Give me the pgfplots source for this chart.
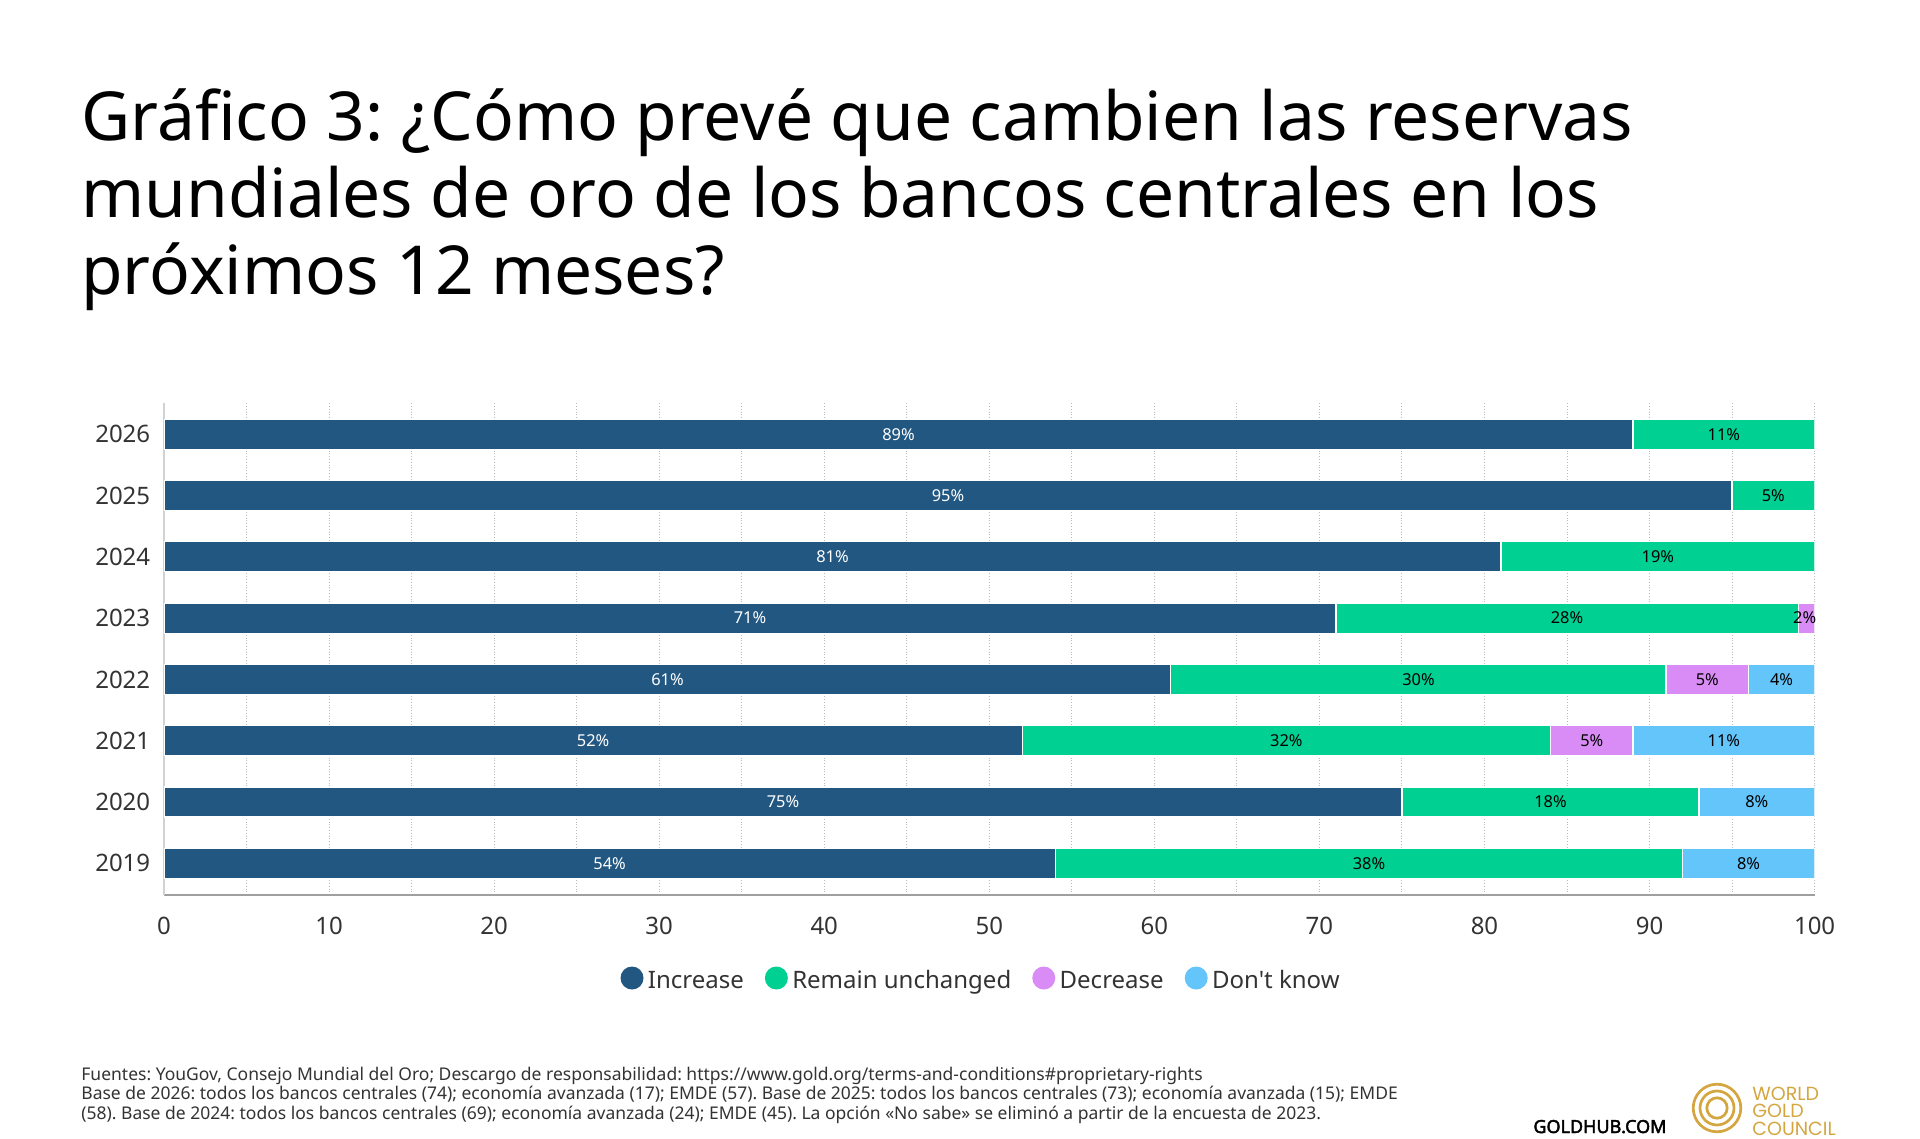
\documentclass[border=0pt]{standalone}
\usepackage{fontspec}
\setmainfont{Noto Sans}[Ligatures=TeXOff]
\newfontfamily\logofont{Poppins}
\newfontfamily\ghfont{Noto Sans}[FakeBold=2.5]
\usepackage{pgfplots}
\pgfplotsset{compat=1.18}
\definecolor{cInc}{HTML}{225782}
\definecolor{cRem}{HTML}{00D092}
\definecolor{cDec}{HTML}{D98CF5}
\definecolor{cDK}{HTML}{64C5FB}
\definecolor{cGold}{HTML}{D4A640}
\definecolor{cTxt}{HTML}{333333}
\frenchspacing
\begin{document}
\begin{tikzpicture}
\path[use as bounding box] (0bp,0bp) rectangle (960bp,569.5bp);
% title
\begin{scope}[every node/.style={anchor=base west, inner sep=0pt, font=\fontsize{33.8bp}{37bp}\selectfont}]
\node at (40.5bp,499bp) {Gráfico 3: ¿Cómo prevé que cambien las reservas};
\node at (40.5bp,460.5bp) {mundiales de oro de los bancos centrales en los};
\node at (40.5bp,422bp) {próximos 12 meses?};
\end{scope}
% footer
\begin{scope}[every node/.style={anchor=base west, inner sep=0pt, text=cTxt, font=\fontsize{8.75bp}{9.8bp}\selectfont}]
\node at (40.5bp,29.5bp) {Fuentes: YouGov, Consejo Mundial del Oro; Descargo de responsabilidad: https://www.gold.org/terms-and-conditions\#proprietary-rights};
\node at (40.5bp,19.7bp) {Base de 2026: todos los bancos centrales (74); economía avanzada (17); EMDE (57). Base de 2025: todos los bancos centrales (73); economía avanzada (15); EMDE};
\node at (40.5bp,9.9bp) {(58). Base de 2024: todos los bancos centrales (69); economía avanzada (24); EMDE (45). La opción «No sabe» se eliminó a partir de la encuesta de 2023.};
\end{scope}
\node[anchor=base west, inner sep=0pt, font=\ghfont\fontsize{9bp}{10bp}\selectfont] at (766.5bp,3bp) {GOLDHUB.COM};
% logo
\begin{scope}[draw=cGold, line width=1.35bp]
\draw (858.5bp,15.5bp) circle (11.9bp);
\draw (858.5bp,15.5bp) circle (8.5bp);
\draw (858.5bp,15.5bp) circle (5.1bp);
\end{scope}
\begin{scope}[every node/.style={anchor=base west, inner sep=0pt, text=cGold, font=\logofont\fontsize{9.5bp}{10bp}\selectfont}]
\node at (876bp,19.5bp) {WORLD};
\node at (876bp,10.7bp) {GOLD};
\node at (876bp,2bp) {COUNCIL};
\end{scope}
% main chart
\begin{axis}[
  at={(82bp,122bp)}, anchor=south west,
  scale only axis, width=825.3bp, height=246.2bp,
  xbar stacked, bar width=15bp,
  xmin=0, xmax=100, ymin=-0.515, ymax=7.515,
  ytick={0,1,2,3,4,5,6,7},
  yticklabels={2019,2020,2021,2022,2023,2024,2025,2026},
  xtick={0,10,...,100},
  minor xtick={5,15,...,95},
  xmajorgrids, xminorgrids,
  major grid style={densely dotted, draw=gray!55, line width=0.5bp},
  minor grid style={densely dotted, draw=gray!55, line width=0.5bp},
  major tick length=0pt, minor tick length=0pt,
  tick style={draw=none},
  axis x line*=bottom, axis y line*=left,
  x axis line style={draw=gray!75, line width=0.8bp},
  y axis line style={draw=gray!35, line width=0.6bp},
  /pgf/number format/assume math mode=true,
  ticklabel style={font=\fontsize{12bp}{14bp}\selectfont, text=cTxt},
  xticklabel style={inner sep=0pt, anchor=north, yshift=-11bp},
  yticklabel style={inner sep=0pt, anchor=east, xshift=-6.7bp},
  legend columns=4,
  legend style={at={(0.4944,-0.1686)}, anchor=center, draw=none, fill=none,
    font=\fontsize{12bp}{14bp}\selectfont, text=cTxt, inner sep=0pt,
    nodes={inner sep=0pt, text depth=0pt},
    /tikz/every odd column/.append style={column sep=2.2bp},
    /tikz/every even column/.append style={column sep=10.5bp}},
]
\addplot[fill=cInc, draw=white, line width=0.6bp,
  legend image code/.code={\node[circle, fill=cInc, minimum size=11.5bp, inner sep=0pt] at (5.75bp,0.8bp) {};}]
  coordinates {(54,0) (75,1) (52,2) (61,3) (71,4) (81,5) (95,6) (89,7)};
\addlegendentry{Increase}
\addplot[fill=cRem, draw=white, line width=0.6bp,
  legend image code/.code={\node[circle, fill=cRem, minimum size=11.5bp, inner sep=0pt] at (5.75bp,0.8bp) {};}]
  coordinates {(38,0) (18,1) (32,2) (30,3) (28,4) (19,5) (5,6) (11,7)};
\addlegendentry{Remain unchanged}
\addplot[fill=cDec, draw=white, line width=0.6bp,
  legend image code/.code={\node[circle, fill=cDec, minimum size=11.5bp, inner sep=0pt] at (5.75bp,0.8bp) {};}]
  coordinates {(0,0) (0,1) (5,2) (5,3) (1,4) (0,5) (0,6) (0,7)};
\addlegendentry{Decrease}
\addplot[fill=cDK, draw=white, line width=0.6bp,
  legend image code/.code={\node[circle, fill=cDK, minimum size=11.5bp, inner sep=0pt] at (5.75bp,0.8bp) {};}]
  coordinates {(8,0) (7,1) (11,2) (4,3) (0,4) (0,5) (0,6) (0,7)};
\addlegendentry{Don't know}
\end{axis}
% labels
\begin{axis}[
  at={(82bp,122bp)}, anchor=south west,
  scale only axis, width=825.3bp, height=246.2bp,
  xmin=0, xmax=100, ymin=-0.515, ymax=7.515,
  hide axis, clip=false,
]
\addplot[only marks, mark=*, mark size=0pt, mark options={draw=none,fill=none},
  nodes near coords, point meta=explicit symbolic,
  every node near coord/.append style={anchor=center, inner sep=0pt, text=white, font=\fontsize{8.2bp}{9bp}\selectfont}]
  coordinates {(27,0)[54\%] (37.5,1)[75\%] (26,2)[52\%] (30.5,3)[61\%] (35.5,4)[71\%] (40.5,5)[81\%] (47.5,6)[95\%] (44.5,7)[89\%]};
\addplot[only marks, mark=*, mark size=0pt, mark options={draw=none,fill=none},
  nodes near coords, point meta=explicit symbolic,
  every node near coord/.append style={anchor=center, inner sep=0pt, text=black, font=\fontsize{8.2bp}{9bp}\selectfont}]
  coordinates {(73,0)[38\%] (96,0)[8\%]
               (84,1)[18\%] (96.5,1)[8\%]
               (68,2)[32\%] (86.5,2)[5\%] (94.5,2)[11\%]
               (76,3)[30\%] (93.5,3)[5\%] (98,3)[4\%]
               (85,4)[28\%] (99.4,4)[2\%]
               (90.5,5)[19\%]
               (97.5,6)[5\%]
               (94.5,7)[11\%]};
\end{axis}
\end{tikzpicture}
\end{document}
